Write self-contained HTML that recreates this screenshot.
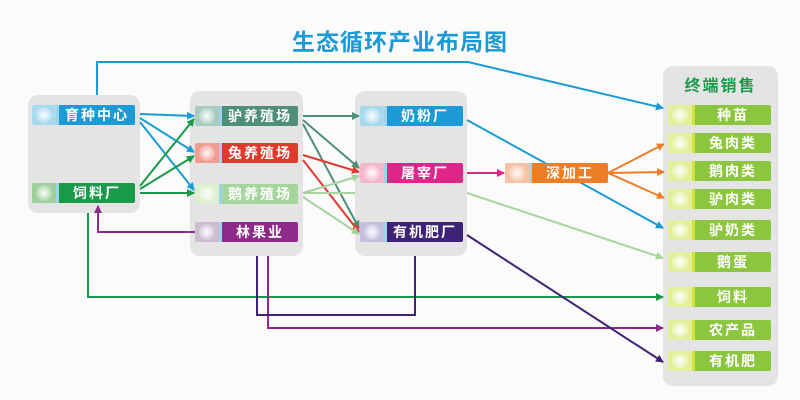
<!DOCTYPE html>
<html><head><meta charset="utf-8">
<style>
body{margin:0;width:800px;height:400px;background:#fbfbfb;overflow:hidden;font-family:"Liberation Sans","Noto Sans CJK SC",sans-serif;position:relative}
.t{position:absolute;left:0;width:800px;top:23px;text-align:center;font-size:23px;font-weight:bold;color:#1b9ad6;letter-spacing:1px}
.g{position:absolute;background:#e4e4e4;border-radius:10px}
.n{position:absolute;height:20px;width:103px;display:flex;border-radius:2px;overflow:hidden}
.n .i{width:24px;height:20px;position:relative}
.n .i:after{content:"";position:absolute;left:4px;top:2px;width:16px;height:16px;border-radius:50%;background:radial-gradient(circle,rgba(255,255,255,.95) 0,rgba(255,255,255,.3) 60%,rgba(255,255,255,0) 100%)}
.n .s{width:3px;background:#9fd3ea}
.n .l{flex:1;color:#fff;font-weight:bold;font-size:14px;line-height:20px;text-align:center;letter-spacing:2px}
.sv .s{background:#d4e23a}
.h{position:absolute;left:663px;width:115px;top:72px;text-align:center;font-size:16px;font-weight:bold;color:#1a9a48;letter-spacing:2px}
svg{position:absolute;left:0;top:0}
</style></head><body>
<div class="t">生态循环产业布局图</div>
<div class="g" style="left:28px;top:95px;width:112px;height:118px"></div>
<div class="g" style="left:190px;top:91px;width:113px;height:165px"></div>
<div class="g" style="left:355px;top:91px;width:112px;height:165px"></div>
<div class="g" style="left:663px;top:66px;width:115px;height:320px"></div>
<div class="h">终端销售</div>

<svg width="800" height="400" viewBox="0 0 800 400">
<defs>
<marker id="ab" markerWidth="8" markerHeight="8" refX="7" refY="4" orient="auto" markerUnits="userSpaceOnUse"><path d="M0,0L8,4L0,8z" fill="#1b9ad6"/></marker>
<marker id="ag" markerWidth="8" markerHeight="8" refX="7" refY="4" orient="auto" markerUnits="userSpaceOnUse"><path d="M0,0L8,4L0,8z" fill="#1a9a48"/></marker>
<marker id="at" markerWidth="8" markerHeight="8" refX="7" refY="4" orient="auto" markerUnits="userSpaceOnUse"><path d="M0,0L8,4L0,8z" fill="#4f8f77"/></marker>
<marker id="ar" markerWidth="8" markerHeight="8" refX="7" refY="4" orient="auto" markerUnits="userSpaceOnUse"><path d="M0,0L8,4L0,8z" fill="#e03a2e"/></marker>
<marker id="al" markerWidth="8" markerHeight="8" refX="7" refY="4" orient="auto" markerUnits="userSpaceOnUse"><path d="M0,0L8,4L0,8z" fill="#a5d59d"/></marker>
<marker id="ap" markerWidth="8" markerHeight="8" refX="7" refY="4" orient="auto" markerUnits="userSpaceOnUse"><path d="M0,0L8,4L0,8z" fill="#8e2a8a"/></marker>
<marker id="ad" markerWidth="8" markerHeight="8" refX="7" refY="4" orient="auto" markerUnits="userSpaceOnUse"><path d="M0,0L8,4L0,8z" fill="#3e2275"/></marker>
<marker id="ak" markerWidth="8" markerHeight="8" refX="7" refY="4" orient="auto" markerUnits="userSpaceOnUse"><path d="M0,0L8,4L0,8z" fill="#e0258a"/></marker>
<marker id="ao" markerWidth="8" markerHeight="8" refX="7" refY="4" orient="auto" markerUnits="userSpaceOnUse"><path d="M0,0L8,4L0,8z" fill="#ee7d27"/></marker>
</defs>
<g fill="none" stroke-width="2">
<path d="M97,95V62H468L663,108" stroke="#1b9ad6" marker-end="url(#ab)"/>
<path d="M140,114L194,116" stroke="#1b9ad6" marker-end="url(#ab)"/>
<path d="M140,118L194,152" stroke="#1b9ad6" marker-end="url(#ab)"/>
<path d="M140,122L194,190" stroke="#1b9ad6" marker-end="url(#ab)"/>
<path d="M140,186L194,119" stroke="#1a9a48" marker-end="url(#ag)"/>
<path d="M140,189L194,156" stroke="#1a9a48" marker-end="url(#ag)"/>
<path d="M140,193L194,193" stroke="#1a9a48" marker-end="url(#ag)"/>
<path d="M88,213V297H663" stroke="#1a9a48" marker-end="url(#ag)"/>
<path d="M195,232H98V206" stroke="#8e2a8a" marker-end="url(#ap)"/>
<path d="M268,256V328H663" stroke="#8e2a8a" marker-end="url(#ap)"/>
<path d="M257,256V315H415V256" stroke="#3e2275"/>
<path d="M467,235L663,362" stroke="#3e2275" marker-end="url(#ad)"/>
<path d="M303,116L359,116" stroke="#4f8f77" marker-end="url(#at)"/>
<path d="M303,120L359,168" stroke="#4f8f77" marker-end="url(#at)"/>
<path d="M303,124L359,228" stroke="#4f8f77" marker-end="url(#at)"/>
<path d="M303,155L359,172" stroke="#e03a2e" marker-end="url(#ar)"/>
<path d="M303,160L359,232" stroke="#e03a2e" marker-end="url(#ar)"/>
<path d="M303,193L359,176" stroke="#a5d59d" marker-end="url(#al)"/>
<path d="M303,197L359,234" stroke="#a5d59d" marker-end="url(#al)"/>
<path d="M467,193L663,258" stroke="#a5d59d" marker-end="url(#al)"/>
<path d="M303,193H355" stroke="#a5d59d"/>
<path d="M467,120L663,228" stroke="#1b9ad6" marker-end="url(#ab)"/>
<path d="M467,173L504,173" stroke="#e0258a" marker-end="url(#ak)"/>
<path d="M608,173L664,144" stroke="#ee7d27" marker-end="url(#ao)"/>
<path d="M608,173L664,172" stroke="#ee7d27" marker-end="url(#ao)"/>
<path d="M608,173L664,198" stroke="#ee7d27" marker-end="url(#ao)"/>
</g>
</svg>

<div class="n" style="left:32px;top:105px"><div class="i" style="background:#a7d9ef"></div><div class="s"></div><div class="l" style="background:#1b9ad6">育种中心</div></div>
<div class="n" style="left:32px;top:183px"><div class="i" style="background:#9fcf9c"></div><div class="s"></div><div class="l" style="background:#1a9a48">饲料厂</div></div>
<div class="n" style="left:195px;top:106px"><div class="i" style="background:#a9cbbf"></div><div class="s"></div><div class="l" style="background:#4f8f77">驴养殖场</div></div>
<div class="n" style="left:195px;top:143px"><div class="i" style="background:#f29b8f"></div><div class="s"></div><div class="l" style="background:#e03a2e">兔养殖场</div></div>
<div class="n" style="left:195px;top:184px"><div class="i" style="background:#dcefcf"></div><div class="s"></div><div class="l" style="background:#a5d59d">鹅养殖场</div></div>
<div class="n" style="left:195px;top:222px"><div class="i" style="background:#cbbcd0"></div><div class="s"></div><div class="l" style="background:#8e2a8a">林果业</div></div>
<div class="n" style="left:360px;top:106px"><div class="i" style="background:#a7d9ef"></div><div class="s"></div><div class="l" style="background:#1b9ad6">奶粉厂</div></div>
<div class="n" style="left:360px;top:163px"><div class="i" style="background:#f4b6c8"></div><div class="s"></div><div class="l" style="background:#e0258a">屠宰厂</div></div>
<div class="n" style="left:360px;top:222px"><div class="i" style="background:#c3bedd"></div><div class="s"></div><div class="l" style="background:#3e2275">有机肥厂</div></div>
<div class="n" style="left:505px;top:163px"><div class="i" style="background:#f5c2a6"></div><div class="s"></div><div class="l" style="background:#ee7d27">深加工</div></div>

<div class="n sv" style="left:668px;top:105px"><div class="i" style="background:#e3ef9a"></div><div class="s"></div><div class="l" style="background:#8cc63f">种苗</div></div>
<div class="n sv" style="left:668px;top:133px"><div class="i" style="background:#e3ef9a"></div><div class="s"></div><div class="l" style="background:#8cc63f">兔肉类</div></div>
<div class="n sv" style="left:668px;top:161px"><div class="i" style="background:#e3ef9a"></div><div class="s"></div><div class="l" style="background:#8cc63f">鹅肉类</div></div>
<div class="n sv" style="left:668px;top:189px"><div class="i" style="background:#e3ef9a"></div><div class="s"></div><div class="l" style="background:#8cc63f">驴肉类</div></div>
<div class="n sv" style="left:668px;top:220px"><div class="i" style="background:#e3ef9a"></div><div class="s"></div><div class="l" style="background:#8cc63f">驴奶类</div></div>
<div class="n sv" style="left:668px;top:252px"><div class="i" style="background:#e3ef9a"></div><div class="s"></div><div class="l" style="background:#8cc63f">鹅蛋</div></div>
<div class="n sv" style="left:668px;top:287px"><div class="i" style="background:#e3ef9a"></div><div class="s"></div><div class="l" style="background:#8cc63f">饲料</div></div>
<div class="n sv" style="left:668px;top:320px"><div class="i" style="background:#e3ef9a"></div><div class="s"></div><div class="l" style="background:#8cc63f">农产品</div></div>
<div class="n sv" style="left:668px;top:351px"><div class="i" style="background:#e3ef9a"></div><div class="s"></div><div class="l" style="background:#8cc63f">有机肥</div></div>
</body></html>
